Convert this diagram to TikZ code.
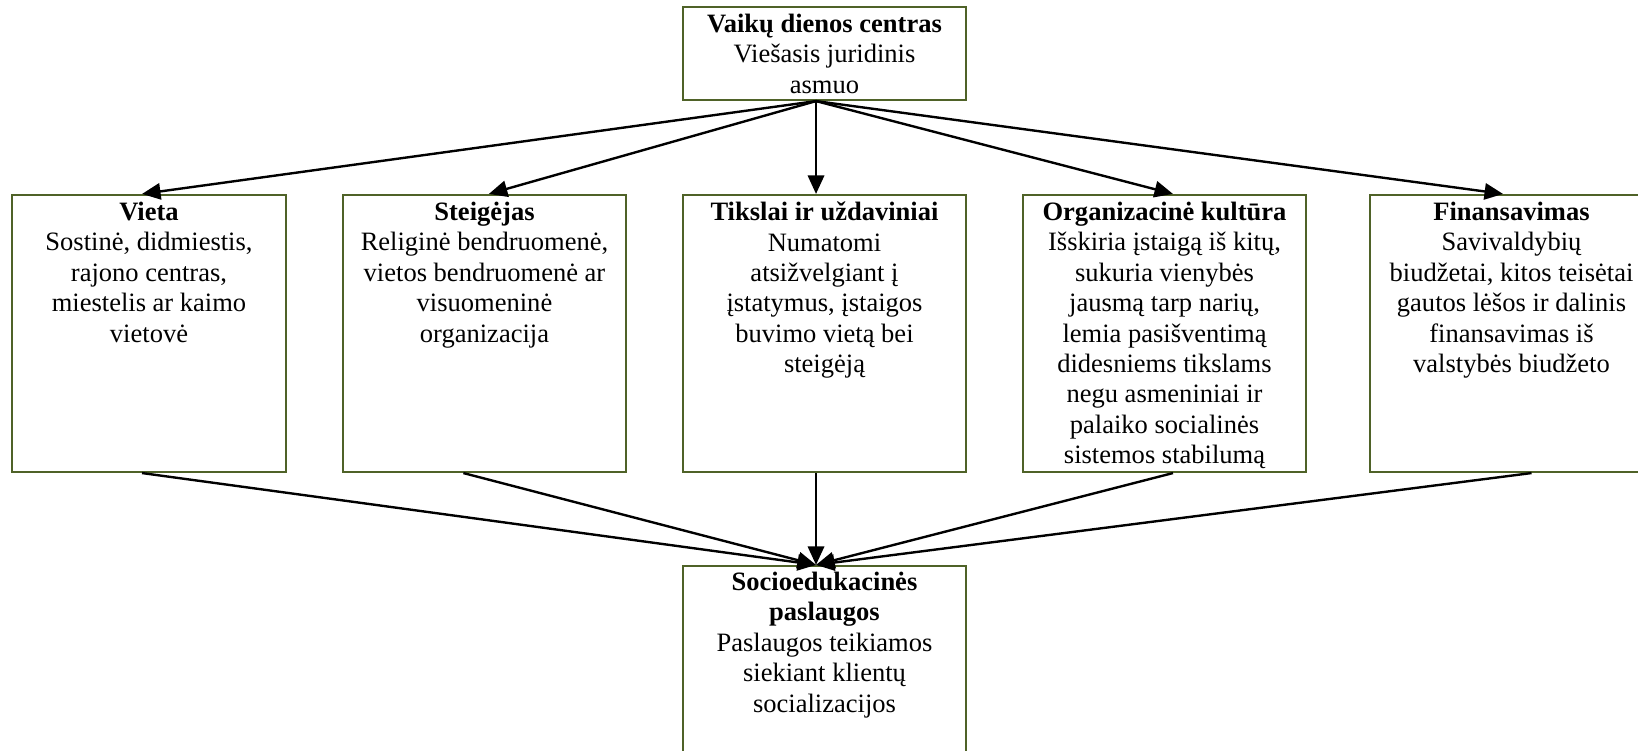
\documentclass[tikz,border=0pt]{standalone}
\usepackage{fontspec}
\setmainfont{Liberation Serif}
\usepackage{xcolor}
\usetikzlibrary{arrows.meta}
\definecolor{olivebox}{HTML}{4F6228}
\tikzset{
  blok/.style={rectangle, draw=olivebox, line width=1pt, inner sep=0pt,
    minimum width=130.2pt, minimum height=127.4pt},
  tekstas/.style={anchor=north, inner sep=0pt, align=center,
    font=\fontsize{12.2}{14}\selectfont},
  rodykle/.style={-{Triangle[length=8.5pt,width=7.5pt]}, line width=1.1pt},
}
\begin{document}
\begin{tikzpicture}[x=0.46pt, y=-0.46pt]
        \useasboundingbox (0,0) rectangle (1638,751);
        % laukeliai
        \node (centras) at (824.5, 53.5) [blok, minimum height=42.8pt] {};
        \node (vieta) at (149, 333.5) [blok, minimum width=126pt] {};
        \node (steigejas) at (484.5, 333.5) [blok] {};
        \node (tikslai) at (824.5, 333.5) [blok] {};
        \node (kultura) at (1164.5, 333.5) [blok] {};
        \node (finansai) at (1511.5, 333.5) [blok] {};
        \node (paslaugos) at (824.5, 671) [blok, minimum height=96.6pt] {};
        % tekstai
        \node (centrasT) at ([yshift=-3.5pt]centras.north) [tekstas] {\textbf{Vaikų dienos centras}\\Viešasis juridinis\\asmuo};
        \node (vietaT) at ([yshift=-3.5pt]vieta.north) [tekstas] {\textbf{Vieta}\\Sostinė, didmiestis,\\rajono centras,\\miestelis ar kaimo\\vietovė};
        \node (steigejasT) at ([yshift=-3.5pt]steigejas.north) [tekstas] {\textbf{Steigėjas}\\Religinė bendruomenė,\\vietos bendruomenė ar\\visuomeninė\\organizacija};
        \node (tikslaiT) at ([yshift=-3.5pt]tikslai.north) [tekstas] {\textbf{Tikslai ir uždaviniai}\\Numatomi\\atsižvelgiant į\\įstatymus, įstaigos\\buvimo vietą bei\\steigėją};
        \node (kulturaT) at ([yshift=-3.5pt]kultura.north) [tekstas] {\textbf{Organizacinė kultūra}\\Išskiria įstaigą iš kitų,\\sukuria vienybės\\jausmą tarp narių,\\lemia pasišventimą\\didesniems tikslams\\negu asmeniniai ir\\palaiko socialinės\\sistemos stabilumą};
        \node (finansaiT) at ([yshift=-3.5pt]finansai.north) [tekstas] {\textbf{Finansavimas}\\Savivaldybių\\biudžetai, kitos teisėtai\\gautos lėšos ir dalinis\\finansavimas iš\\valstybės biudžeto};
        \node (paslaugosT) at ([yshift=-3pt]paslaugos.north) [tekstas] {\textbf{Socioedukacinės}\\\textbf{paslaugos}\\Paslaugos teikiamos\\siekiant klientų\\socializacijos};
        % rodykles
        \draw [rodykle] ([xshift=-3.9pt]centras.south) -- ([xshift=-3.2pt]vieta.north);
        \draw [rodykle] ([xshift=-3.9pt]centras.south) -- ([xshift=2pt]steigejas.north);
        \draw [rodykle] ([xshift=-3.9pt]centras.south) -- ([xshift=-3.9pt]tikslai.north);
        \draw [rodykle] ([xshift=-3.9pt]centras.south) -- ([xshift=3.9pt]kultura.north);
        \draw [rodykle] ([xshift=-3.9pt]centras.south) -- ([xshift=-3.9pt]finansai.north);
        \draw [rodykle] ([xshift=-3.2pt]vieta.south) -- ([xshift=-3.9pt]paslaugos.north);
        \draw [rodykle] ([xshift=-9.7pt]steigejas.south) -- ([xshift=-3.9pt]paslaugos.north);
        \draw [rodykle] ([xshift=-3.9pt]tikslai.south) -- ([xshift=-3.9pt]paslaugos.north);
        \draw [rodykle] ([xshift=3.9pt]kultura.south) -- ([xshift=-3.9pt]paslaugos.north);
        \draw [rodykle] ([xshift=9.2pt]finansai.south) -- ([xshift=-3.9pt]paslaugos.north);
    \end{tikzpicture}
\end{document}
